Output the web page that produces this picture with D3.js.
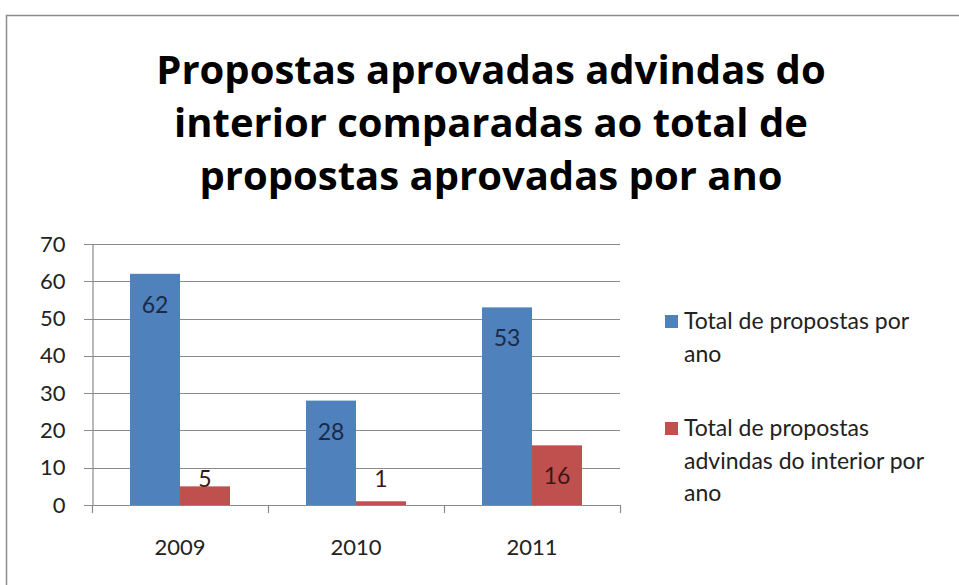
<!DOCTYPE html>
<html>
<head>
<meta charset="utf-8">
<script src="https://cdn.jsdelivr.net/npm/d3@7"></script>
<style>
  body { margin: 0; background: #fff; }
</style>
</head>
<body>
<script>
const years = ["2009", "2010", "2011"];
const seriesNames = ["Total de propostas por ano", "Total de propostas advindas do interior por ano"];
const totalPorAno = [62, 28, 53];
const interiorPorAno = [5, 1, 16];
const yTicks = [0, 10, 20, 30, 40, 50, 60, 70];
const titleLines = ["Propostas aprovadas advindas do", "interior comparadas ao total de", "propostas aprovadas por ano"];
const legendLines = [["Total de propostas por", "ano"], ["Total de propostas", "advindas do interior por", "ano"]];

const colors = ["#4f81bd", "#c0504d"];
const labelColors = ["#1b2a47", "#3b1716"];
const font = "Lato, sans-serif";

const width = 959, height = 585;
const margin = { left: 92, right: 339, top: 244, bottom: 80 };

const svg = d3.select("body")
    .append("svg")
    .attr("width", width)
    .attr("height", height)
    .style("font-family", font);

// chart frame
svg.append("rect")
    .attr("x", 6.5).attr("y", 15.5)
    .attr("width", 1000).attr("height", 1000)
    .attr("fill", "none")
    .attr("stroke", "#8c8c8c")
    .attr("stroke-width", 1.5);

// title
svg.append("g").selectAll("text")
    .data(titleLines).enter().append("text")
    .attr("x", 491)
    .attr("y", (d, i) => 84 + i * 53)
    .attr("text-anchor", "middle")
    .style("font-family", "'Open Sans', sans-serif")
    .style("font-size", "40px")
    .style("font-weight", "bold")
    .attr("fill", "#000")
    .text(d => d);

const data = years.map((y, i) => ({ year: y, values: [totalPorAno[i], interiorPorAno[i]] }));

const xScale = d3.scaleBand().domain(years).range([margin.left, width - margin.right]);
const x1 = d3.scaleBand().domain([0, 1]).range([0, xScale.bandwidth()]).paddingOuter(0.76);
const yScale = d3.scaleLinear().domain([0, 70]).range([height - margin.bottom, margin.top]);

// gridlines
svg.append("g")
    .selectAll("line")
    .data(yTicks).enter().append("line")
    .attr("x1", margin.left - 8)
    .attr("x2", width - margin.right)
    .attr("y1", d => Math.round(yScale(d)) + 0.5)
    .attr("y2", d => Math.round(yScale(d)) + 0.5)
    .attr("stroke", "#8a8a8a")
    .attr("stroke-width", 1.2);

// y axis
const yAxis = d3.axisLeft(yScale).tickValues(yTicks).tickSize(0).tickPadding(27);
svg.append("g")
    .attr("class", "y axis")
    .attr("transform", `translate(${margin.left + 0.5},0)`)
    .call(yAxis)
    .call(g => g.select(".domain").attr("stroke", "#8a8a8a").attr("stroke-width", 1.2))
    .call(g => g.selectAll("text").style("font-size", "22px").style("font-family", font).attr("fill", "#222"));

// x axis
const xAxis = d3.axisBottom(xScale).tickSize(0).tickPadding(34);
svg.append("g")
    .attr("class", "x axis")
    .attr("transform", `translate(0,${Math.round(yScale(0)) + 0.5})`)
    .call(xAxis)
    .call(g => g.select(".domain").remove())
    .call(g => g.selectAll("text").style("font-size", "22px").style("font-family", font).attr("fill", "#222"));

// category separator ticks
const sepX = years.map(d => xScale(d)).concat([width - margin.right]);
svg.append("g").selectAll("line")
    .data(sepX).enter().append("line")
    .attr("x1", d => Math.round(d) + 0.5).attr("x2", d => Math.round(d) + 0.5)
    .attr("y1", yScale(0)).attr("y2", yScale(0) + 8)
    .attr("stroke", "#8a8a8a").attr("stroke-width", 1.2);

// bars
const groups = svg.selectAll(".yearGroup")
    .data(data).enter().append("g")
    .attr("class", "yearGroup")
    .attr("transform", d => `translate(${xScale(d.year)},0)`);

groups.selectAll("rect")
    .data(d => d.values.map((v, i) => ({ v, i }))).enter().append("rect")
    .attr("x", d => x1(d.i))
    .attr("width", x1.bandwidth())
    .attr("y", d => yScale(d.v))
    .attr("height", d => yScale(0) - yScale(d.v))
    .attr("fill", d => colors[d.i]);

groups.selectAll("text")
    .data(d => d.values.map((v, i) => ({ v, i }))).enter().append("text")
    .attr("x", d => x1(d.i) + x1.bandwidth() / 2)
    .attr("y", d => Math.min(yScale(d.v) + 39, 487))
    .attr("text-anchor", "middle")
    .style("font-size", "23px")
    .attr("fill", d => labelColors[d.i])
    .text(d => d.v);

// legend
const legend = svg.append("g").attr("class", "legend");
const legendTop = [329, 436];
legendLines.forEach((lines, i) => {
    legend.append("rect")
        .attr("x", 665).attr("y", legendTop[i] - 14)
        .attr("width", 13).attr("height", 13)
        .attr("fill", colors[i]);
    legend.selectAll(".l" + i)
        .data(lines).enter().append("text")
        .attr("class", "l" + i)
        .attr("x", 684)
        .attr("y", (d, j) => legendTop[i] + j * 32.5)
        .style("font-size", "23px")
        .attr("fill", "#222")
        .text(d => d);
});
</script>
</body>
</html>
